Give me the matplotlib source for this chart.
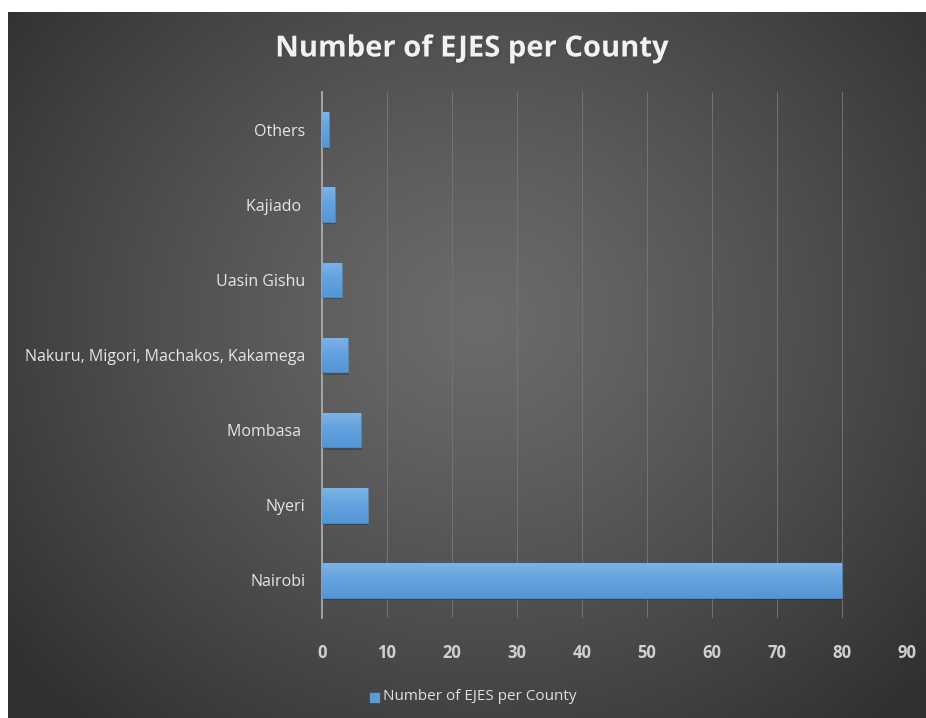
import numpy as np
import matplotlib
matplotlib.use("Agg")
import matplotlib.pyplot as plt
from matplotlib.colors import LinearSegmentedColormap
import matplotlib.patheffects as pe

categories = ["Nairobi", "Nyeri", "Mombasa ", "Nakuru, Migori, Machakos, Kakamega",
              "Uasin Gishu", "Kajiado ", "Others"]
values = [80, 7, 6, 4, 3, 2, 1]
xticks = [0, 10, 20, 30, 40, 50, 60, 70, 80, 90]
title = "Number of EJES per County"
series_name = "Number of EJES per County"

W, H = 926, 718
fig = plt.figure(figsize=(W / 100, H / 100), dpi=100)
fig.patch.set_facecolor("white")

# background panel with radial gradient
bg = fig.add_axes([8 / W, 0, 1 - 8 / W, 1 - 12 / H])
bg.set_axis_off()
yy, xx = np.mgrid[0:300, 0:400]
cx, cy = 205, 130
r = np.sqrt(((xx - cx) / 260.0) ** 2 + ((yy - cy) / 230.0) ** 2)
r = np.clip(r, 0, 1)
grad = 0.42 - 0.23 * r ** 1.2
bg.imshow(np.dstack([grad, grad, grad]), aspect="auto", extent=[0, 1, 0, 1],
          interpolation="bilinear")
bg.set_xlim(0, 1)
bg.set_ylim(0, 1)

font = "Open Sans"
ax = fig.add_axes([322 / W, 1 - 618 / H, (907 - 322) / W, (618 - 92) / H])
ax.patch.set_alpha(0)
ypos = np.arange(len(categories))
bars = ax.barh(ypos, values, height=0.46, color="#5b9bd5", edgecolor="#4f86bd",
               linewidth=0.8, zorder=3)
bar_cmap = LinearSegmentedColormap.from_list("b", ["#7db2e6", "#62a2de", "#5496d6"])
for b in bars:
    x0, y0 = b.get_x(), b.get_y()
    w, h = b.get_width(), b.get_height()
    # shadow
    ax.add_patch(plt.Rectangle((x0, y0 - 0.03), w + 0.15, h, color="black",
                               alpha=0.2, zorder=2, linewidth=0))
    im = ax.imshow(np.linspace(0, 1, 50).reshape(-1, 1), cmap=bar_cmap,
                   extent=[x0, x0 + w, y0, y0 + h], aspect="auto", zorder=3.5,
                   origin="upper")
    im.set_clip_path(b)

ax.set_xlim(0, 90)
ax.set_ylim(-0.5, len(categories) - 0.5)
ax.set_xticks(xticks)
ax.set_xticklabels([str(t) for t in xticks], fontsize=12, fontweight="bold",
                   color="#d0d0d0", family=font)
ax.set_yticks(ypos)
ax.set_yticklabels(categories, fontsize=11.5, color="#e6e6e6", family=font)
ax.tick_params(axis="both", length=0)
ax.tick_params(axis="x", pad=19)
ax.tick_params(axis="y", pad=12)
ax.grid(axis="x", color="#737373", linewidth=0.7, zorder=1)
for s in ["top", "right", "bottom"]:
    ax.spines[s].set_visible(False)
ax.spines["left"].set_color("#b0b0b0")
ax.spines["left"].set_linewidth(1.2)

fig.text(472 / W, 1 - 49 / H, title, ha="center", va="center", fontsize=21,
         fontweight="bold", color="#f2f2f2", family=font,
         path_effects=[pe.withSimplePatchShadow(offset=(1.5, -1.5), alpha=0.6)])

# legend
fig.patches.append(plt.Rectangle((370 / W, 1 - 702 / H), 9 / W, 9 / H,
                                 transform=fig.transFigure, color="#5b9bd5"))
fig.text(383 / W, 1 - 697 / H, series_name, ha="left", va="center", fontsize=11,
         color="#e0e0e0", family=font)

fig.savefig("out.png", dpi=100, facecolor=fig.get_facecolor())
